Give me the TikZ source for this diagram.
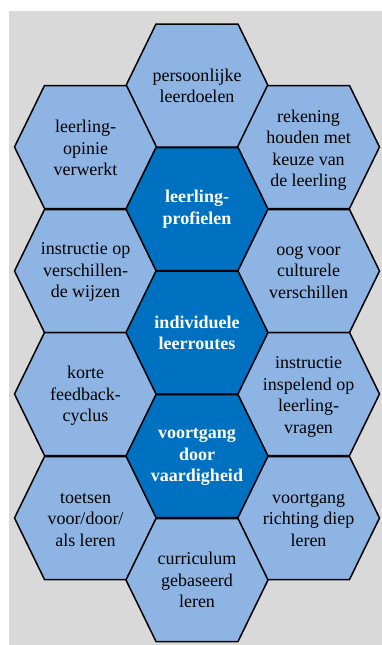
\documentclass[tikz,border=0pt]{standalone}
\usepackage{fontspec}
\setmainfont{Liberation Serif}
\definecolor{bgGray}{HTML}{D9D9D9}
\definecolor{cellLight}{HTML}{8EB4E3}
\definecolor{cellDark}{HTML}{0070C0}
\tikzset{
  cell/.style={draw=black, line width=1.5pt, line join=miter},
  light/.style={cell, fill=cellLight},
  dark/.style={cell, fill=cellDark},
  lbl/.style={align=center, text=black, font=\fontsize{18}{21.5}\selectfont},
  lblbold/.style={align=center, text=white, font=\fontsize{18}{21.5}\selectfont\bfseries},
}
\begin{document}
\begin{tikzpicture}[x=1pt, y=-1pt]
    \useasboundingbox (0,0) rectangle (382,645);
    \fill[bgGray] (9,11) rectangle (382,645);

    % light cells
    \foreach \x/\y in {197/85.5, 85.5/147, 308.5/147, 85.5/271, 308.5/271,
                       85.5/394, 308.5/394, 85.5/518, 308.5/518, 197/580}
      \draw[light] (\x,\y) ++(-71,0) -- ++(30,-61.5) -- ++(82,0) -- ++(30,61.5)
                   -- ++(-30,61.5) -- ++(-82,0) -- cycle;
    % dark cells
    \foreach \x/\y in {197/209, 197/332.5, 197/456}
      \draw[dark] (\x,\y) ++(-71,0) -- ++(30,-61.5) -- ++(82,0) -- ++(30,61.5)
                  -- ++(-30,61.5) -- ++(-82,0) -- cycle;

    \node[lbl] (0) at (197,86) {persoonlijke\\leerdoelen};
    \node[lbl] (1) at (85.5,148) {leerling-\\opinie\\verwerkt};
    \node[lbl] (2) at (308.5,150) {rekening\\houden met\\keuze van\\de leerling};
    \node[lblbold] (3) at (197,209) {leerling-\\profielen};
    \node[lbl] (4) at (85.5,272) {instructie op\\verschillen-\\de wijzen};
    \node[lbl] (5) at (308.5,272) {oog voor\\culturele\\verschillen};
    \node[lblbold] (6) at (197,333) {individuele\\leerroutes};
    \node[lbl] (7) at (85.5,396) {korte\\feedback-\\cyclus};
    \node[lbl] (8) at (308.5,397) {instructie\\inspelend op\\leerling-\\vragen};
    \node[lblbold] (9) at (197,457) {voortgang\\door\\vaardigheid};
    \node[lbl] (10) at (85.5,520) {toetsen\\voor/door/\\als leren};
    \node[lbl] (11) at (308.5,520) {voortgang\\richting diep\\leren};
    \node[lbl] (12) at (197,580) {curriculum\\gebaseerd\\leren};
\end{tikzpicture}
\end{document}
